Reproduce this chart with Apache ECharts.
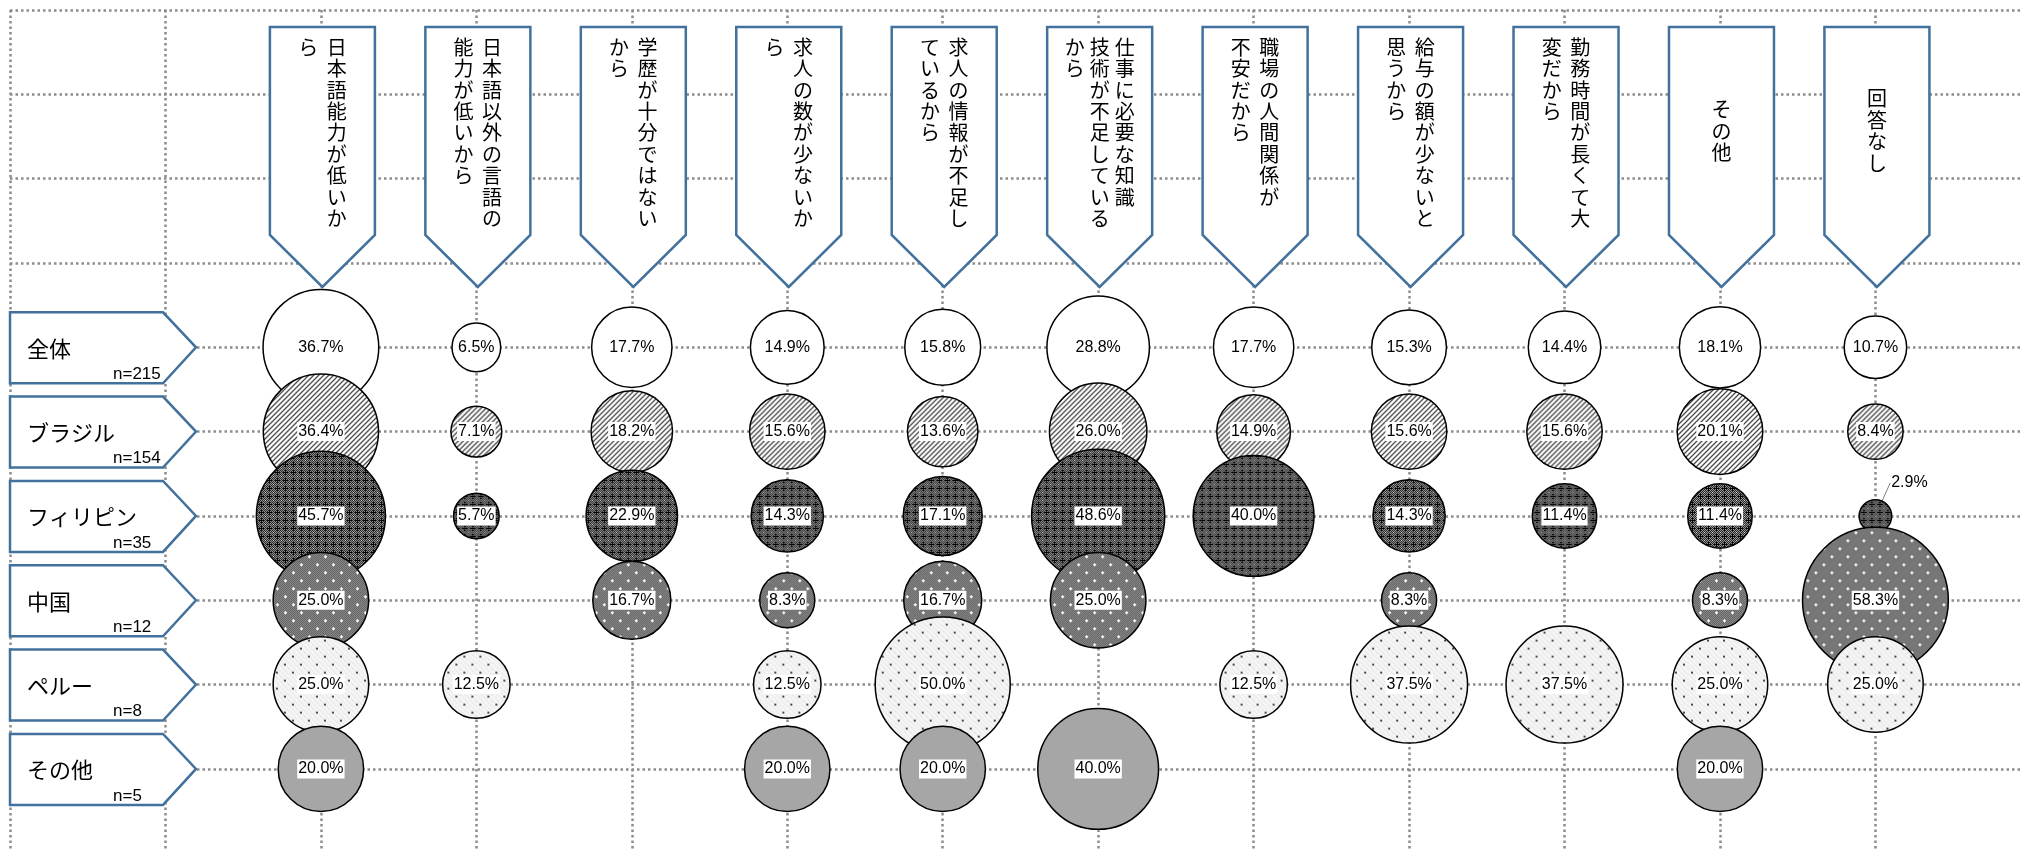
<!DOCTYPE html>
<html>
<head>
<meta charset="utf-8">
<script src="https://cdn.jsdelivr.net/npm/echarts@6/dist/echarts.min.js"></script>
<style>
html,body{margin:0;padding:0;background:#fff;}
#c{width:2020px;height:849px;}
</style>
</head>
<body>
<div id="c"></div>
<script>
// ---- data ----
// header text, one entry per vertical column (rightmost column first)
const reasonLines = [
  ["日本語能力が低いか", "ら"],
  ["日本語以外の言語の", "能力が低いから"],
  ["学歴が十分ではない", "から"],
  ["求人の数が少ないか", "ら"],
  ["求人の情報が不足し", "ているから"],
  ["仕事に必要な知識", "技術が不足している", "から"],
  ["職場の人間関係が", "不安だから"],
  ["給与の額が少ないと", "思うから"],
  ["勤務時間が長くて大", "変だから"],
  ["その他"],
  ["回答なし"]
];
const groups = ["全体", "ブラジル", "フィリピン", "中国", "ペルー", "その他"];
const groupN = ["n=215", "n=154", "n=35", "n=12", "n=8", "n=5"];

const valsAll       = [36.7, 6.5, 17.7, 14.9, 15.8, 28.8, 17.7, 15.3, 14.4, 18.1, 10.7];
const valsBrazil    = [36.4, 7.1, 18.2, 15.6, 13.6, 26.0, 14.9, 15.6, 15.6, 20.1, 8.4];
const valsPhilippin = [45.7, 5.7, 22.9, 14.3, 17.1, 48.6, 40.0, 14.3, 11.4, 11.4, 2.9];
const valsChina     = [25.0, null, 16.7, 8.3, 16.7, 25.0, null, 8.3, null, 8.3, 58.3];
const valsPeru      = [25.0, 12.5, null, 12.5, 50.0, null, 12.5, 37.5, 37.5, 25.0, 25.0];
const valsOther     = [20.0, null, null, 20.0, 20.0, 40.0, null, null, null, 20.0, null];
const groupValues = [valsAll, valsBrazil, valsPhilippin, valsChina, valsPeru, valsOther];

// ---- patterns ----
function tile(w, h, fn) {
  const c = document.createElement('canvas');
  c.width = w; c.height = h;
  const g = c.getContext('2d');
  for (let y = 0; y < h; y++) for (let x = 0; x < w; x++) {
    const col = fn(x, y);
    if (col) { g.fillStyle = col; g.fillRect(x, y, 1, 1); }
  }
  return c;
}
const hatch = tile(5, 5, (x, y) => { const k = (x + y) % 5; return k === 0 ? '#2a2a2a' : (k === 1 ? '#808080' : '#fff'); });
const philPat = tile(8, 8, (x, y) => {
  if ((x === 4 && Math.abs(y - 4) <= 2) || (y === 4 && Math.abs(x - 4) <= 2)) return '#000';
  if (x === 0 && y === 0) return '#e0e0e0';
  return ((x + y) % 2 === 0) ? '#9c9c9c' : '#1e1e1e';
});
const chinaPat = tile(16, 16, (x, y) => {
  const pts = [[4, 4], [12, 12]];
  for (const [cx, cy] of pts) {
    if ((Math.abs(x - cx) <= 1 && y === cy) || (x === cx && Math.abs(y - cy) <= 1)) return '#fff';
  }
  return ((x + y) % 2 === 0) ? '#a4a4a4' : '#4a4a4a';
});
const peruPat = tile(16, 16, (x, y) => {
  const pts = [[3, 3], [11, 11]];
  for (const [cx, cy] of pts) {
    if ((x === cx || x === cx + 1) && (y === cy || y === cy + 1)) return '#4a4a4a';
  }
  return ((x * 7 + y * 3) % 5 === 0) ? '#e6e6e6' : '#f5f5f5';
});
const fills = ['#ffffff', hatch, philPat, chinaPat, peruPat, '#a6a6a6'];

const SIZE_K = 19.1;
const BLUE = '#41719c';
const JP = '"Noto Sans CJK JP", "Noto Sans CJK SC", sans-serif';

function fillFor(r, size) {
  const f = fills[r];
  if (typeof f === 'string') return f;
  // symbols are drawn as a unit shape scaled by size/2: undo that for the pattern
  const s = 2 / size;
  return { image: f, repeat: 'repeat', scaleX: s, scaleY: s };
}

const chart = echarts.init(document.getElementById('c'), null, { renderer: 'canvas' });

const gridLine = { show: true, showMaxLine: false, lineStyle: { color: '#8c8c8c', width: 2.5, type: [2.5, 3] } };

const headerSeries = {
  type: 'custom',
  coordinateSystem: 'cartesian2d',
  silent: true,
  z: 2,
  data: reasonLines.map((_, i) => [i, -4]),
  renderItem: function (params, api) {
    const c = api.value(0);
    const p = api.coord([c, -4]);
    const cx = p[0] + 1.5, top0 = p[1];
    const hw = 52.5, yt = top0 + 17, yb = top0 + 225, tip = top0 + 277;
    const lines = reasonLines[c];
    const children = [{
      type: 'polygon',
      shape: { points: [[cx - hw, yt], [cx + hw, yt], [cx + hw, yb], [cx, tip], [cx - hw, yb]] },
      style: { fill: '#fff', stroke: BLUE, lineWidth: 2.5, lineJoin: 'miter' }
    }];
    const n = lines.length;
    const P = n > 2 ? 25 : 28.5;
    lines.forEach((ln, i) => {
      const x = cx + (n - 1) / 2 * P - i * P;
      const single = n === 1;
      children.push({
        type: 'text',
        style: {
          text: Array.from(ln).join('\n'),
          x: x, y: single ? top0 + 121 : top0 + 26.5,
          textAlign: 'center', textVerticalAlign: single ? 'middle' : 'top',
          font: '20px ' + JP, lineHeight: 21.4, fill: '#000'
        }
      });
    });
    return { type: 'group', children: children };
  }
};

const rowSeries = {
  type: 'custom',
  coordinateSystem: 'cartesian2d',
  silent: true,
  z: 2,
  data: groups.map((_, r) => [-2, r]),
  renderItem: function (params, api) {
    const r = api.value(1);
    const p = api.coord([-2, r]);
    const x0 = p[0], cy = p[1];
    return {
      type: 'group',
      children: [
        {
          type: 'polygon',
          shape: { points: [[x0, cy - 35], [x0 + 153, cy - 35], [x0 + 186, cy], [x0 + 153, cy + 36], [x0, cy + 36]] },
          style: { fill: '#fff', stroke: BLUE, lineWidth: 2.5, lineJoin: 'miter' }
        },
        {
          type: 'text',
          style: { text: groups[r], x: x0 + 17, y: cy + 1, textAlign: 'left', textVerticalAlign: 'middle', font: '22px ' + JP, fill: '#000' }
        },
        {
          type: 'text',
          style: { text: groupN[r], x: x0 + 103, y: cy + 27, textAlign: 'left', textVerticalAlign: 'middle', font: '17px "Liberation Sans", Arial, sans-serif', fill: '#000' }
        }
      ]
    };
  }
};

const bubbleSeries = groups.map((g, r) => {
  const data = [];
  groupValues[r].forEach((v, c) => {
    if (v == null) return;
    const size = SIZE_K * Math.sqrt(v);
    const item = { value: [c, r, v], itemStyle: { color: fillFor(r, size) } };
    if (r === 2 && c === 10) {
      item.labelLine = { show: true, lineStyle: { color: '#7f7f7f', width: 1 } };
      item.label = { backgroundColor: 'transparent' };
    }
    data.push(item);
  });
  return {
    type: 'scatter',
    name: g,
    z: 3,
    data: data,
    symbol: 'circle',
    symbolSize: d => SIZE_K * Math.sqrt(d[2]),
    itemStyle: { borderColor: '#000', borderWidth: 1.5, opacity: 1 },
    label: {
      show: true, position: 'inside',
      formatter: p => p.value[2].toFixed(1) + '%',
      color: '#000', fontSize: 16, fontFamily: '"Liberation Sans", Arial, sans-serif',
      backgroundColor: '#fff', padding: [2, 1, 1, 1]
    },
    labelLine: { show: false },
    labelLayout: function (params) {
      if (r === 2 && params.dataIndex === 10) return { dx: 34, dy: -33 };
      return {};
    },
    emphasis: { disabled: true }
  };
});

chart.setOption({
  animation: false,
  grid: { left: 10, top: 10, right: 0, bottom: 0, containLabel: false },
  xAxis: {
    type: 'value', min: -2, max: 10.93, interval: 1,
    axisLine: { show: false }, axisTick: { show: false }, axisLabel: { show: false },
    splitLine: gridLine
  },
  yAxis: {
    type: 'value', inverse: true, min: -4, max: 5.95, interval: 1,
    axisLine: { show: false }, axisTick: { show: false }, axisLabel: { show: false },
    splitLine: gridLine
  },
  series: [headerSeries, rowSeries].concat(bubbleSeries)
});
</script>
</body>
</html>
